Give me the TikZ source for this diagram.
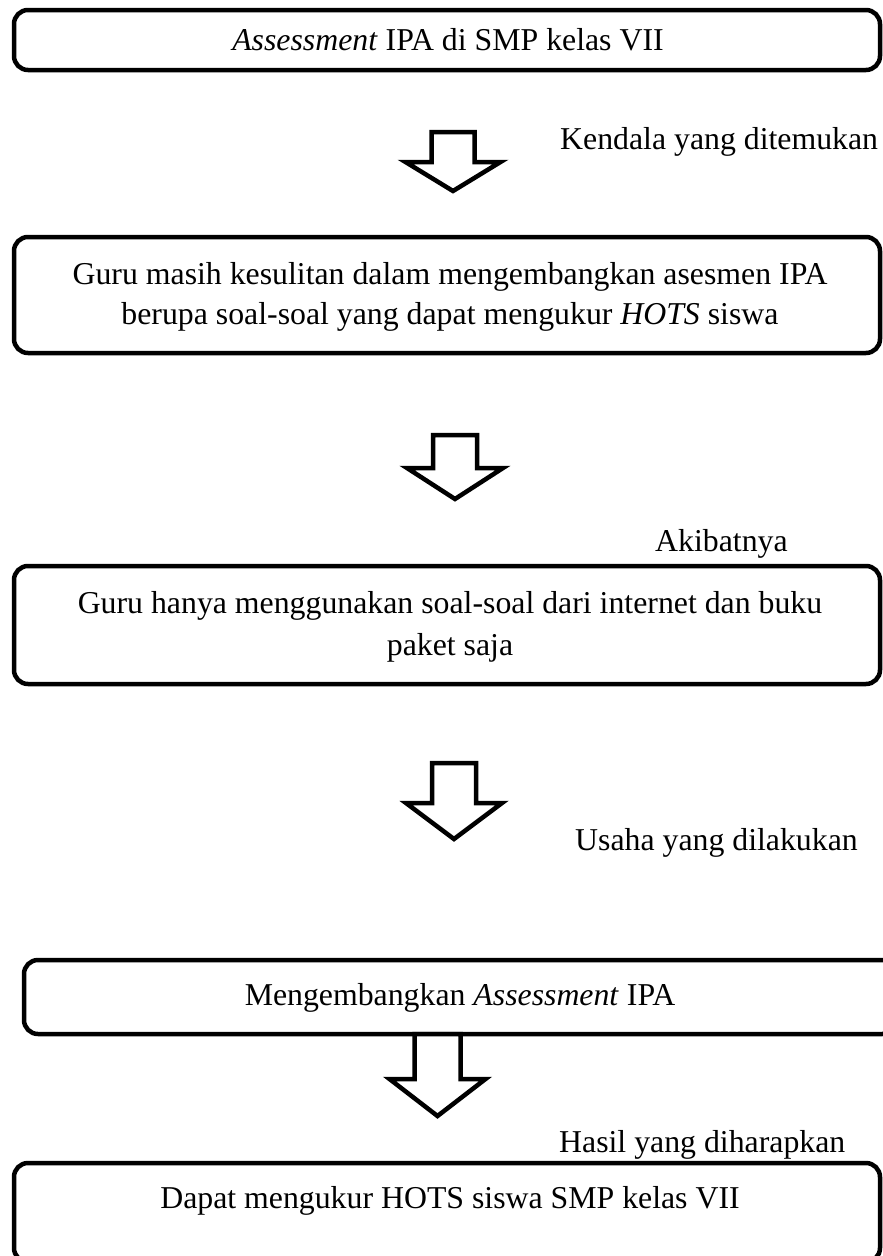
\documentclass[tikz,border=0pt]{standalone}
\usepackage{fontspec}
\setmainfont{Liberation Serif}
\newcommand\blkarrow[7]{%
  \coordinate (#1) at (#2,#3);
  \draw[blk] ($(#1)+(-#6,0)$) -- ++(0,#4-#3) -- ++(#6-#7,0) -- ($(#1)+(0,#5-#3)$)
    -- ($(#1)+(#7,#4-#3)$) -- ++(#6-#7,0) -- ($(#1)+(#6,0)$) -- cycle;}
\usetikzlibrary{calc}
\begin{document}
\begin{tikzpicture}[x=1pt,y=-1pt,
  box/.style={draw, line width=4.5pt, rounded corners=14pt, inner sep=0pt},
  txt/.style={inner sep=0pt, font=\fontsize{31.8}{41}\selectfont},
  blk/.style={draw, line width=4.5pt, line join=miter, fill=white}]
\useasboundingbox[fill=white] (0,0) rectangle (883,1256);
% boxes
\node[box, minimum width=866pt, minimum height=60pt] (b1) at (447,40) {};
\node[box, minimum width=866pt, minimum height=116pt] (b2) at (447,295) {};
\node[box, minimum width=866pt, minimum height=118pt] (b3) at (447,625) {};
\node[box, minimum width=872pt, minimum height=74pt] (b4) at (460,997) {};
\node[box, minimum width=866pt, minimum height=99pt] (b5) at (447,1212.5) {};
% box texts
\node[txt, anchor=base] (t1) at (448,50.5) {\textit{Assessment} IPA di SMP kelas VII};
\node[txt, anchor=base] (t2a) at (450,284) {Guru masih kesulitan dalam mengembangkan asesmen IPA};
\node[txt, anchor=base] (t2b) at (450,324) {berupa soal-soal yang dapat mengukur \textit{HOTS} siswa};
\node[txt, anchor=base] (t3a) at (450,613) {Guru hanya menggunakan soal-soal dari internet dan buku};
\node[txt, anchor=base] (t3b) at (450,655) {paket saja};
\node[txt, anchor=base] (t4) at (460,1005) {Mengembangkan \textit{Assessment} IPA};
\node[txt, anchor=base] (t5) at (450,1208) {Dapat mengukur HOTS siswa SMP kelas VII};
% arrows
\blkarrow{a1}{453}{132}{162}{191}{21.5}{47.5}
\blkarrow{a2}{455}{435}{468}{499}{22}{48}
\blkarrow{a3}{454}{763}{803}{839}{22}{48}
\blkarrow{a4}{437.5}{1034}{1079}{1116}{23}{48}
% labels
\node[txt, anchor=base west] (l1) at (560,149) {Kendala yang ditemukan};
\node[txt, anchor=base west] (l2) at (655,551) {Akibatnya};
\node[txt, anchor=base west] (l3) at (575,850) {Usaha yang dilakukan};
\node[txt, anchor=base west] (l4) at (559,1152) {Hasil yang diharapkan};
\end{tikzpicture}
\end{document}
